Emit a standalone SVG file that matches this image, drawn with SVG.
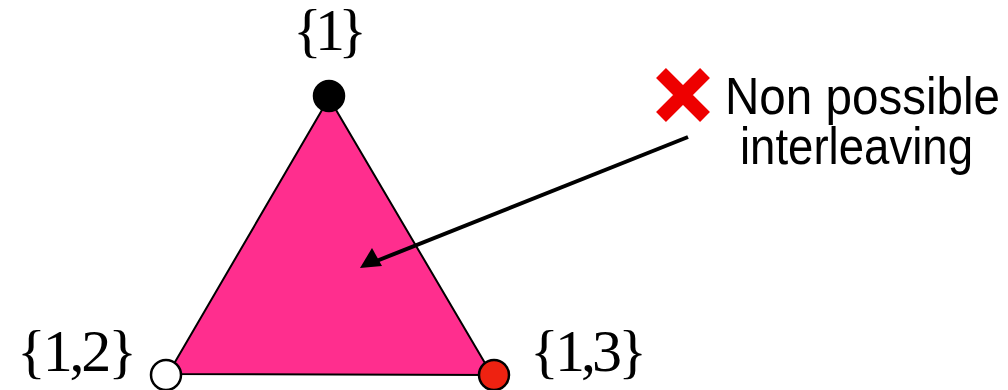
<svg xmlns="http://www.w3.org/2000/svg" width="1008" height="390" viewBox="0 0 1008 390">
<style>
.lbl{font-family:"Liberation Serif","Times New Roman",serif;font-size:60px;fill:#000}
.note{font-family:"Liberation Sans",Arial,sans-serif;font-size:52px;fill:#000}
.node{stroke:#000;stroke-width:2.5}
</style>
<rect width="1008" height="390" fill="#fff"/>
<g id="triangle">
<polygon points="329,98 168,374 492,375" fill="#FF2E8E" stroke="#000" stroke-width="2"/>
</g>
<g id="connectors">
<line x1="688" y1="137" x2="374" y2="262" stroke="#000" stroke-width="4"/>
<path d="M360,268 L372,248 L382,266 Z" fill="#000"/>
</g>
<g id="node1">
<circle class="node" cx="329" cy="96" r="15" fill="#000"/>
<text class="lbl" x="293" y="50" textLength="74">{1}</text>
</g>
<g id="node12">
<circle class="node" cx="166" cy="375" r="15" fill="#fff"/>
<text class="lbl" x="17" y="371" textLength="120">{1,2}</text>
</g>
<g id="node13">
<circle class="node" cx="494" cy="375" r="15" fill="#EE2211"/>
<text class="lbl" x="530" y="371" textLength="117">{1,3}</text>
</g>
<g id="note">
<path d="M661,73 L705,117 M705,73 L661,117" stroke="#EE0000" stroke-width="14"/>
<text class="note" x="725" y="114" textLength="275" lengthAdjust="spacingAndGlyphs">Non possible</text>
<text class="note" x="740" y="164" textLength="233" lengthAdjust="spacingAndGlyphs">interleaving</text>
</g>
</svg>
